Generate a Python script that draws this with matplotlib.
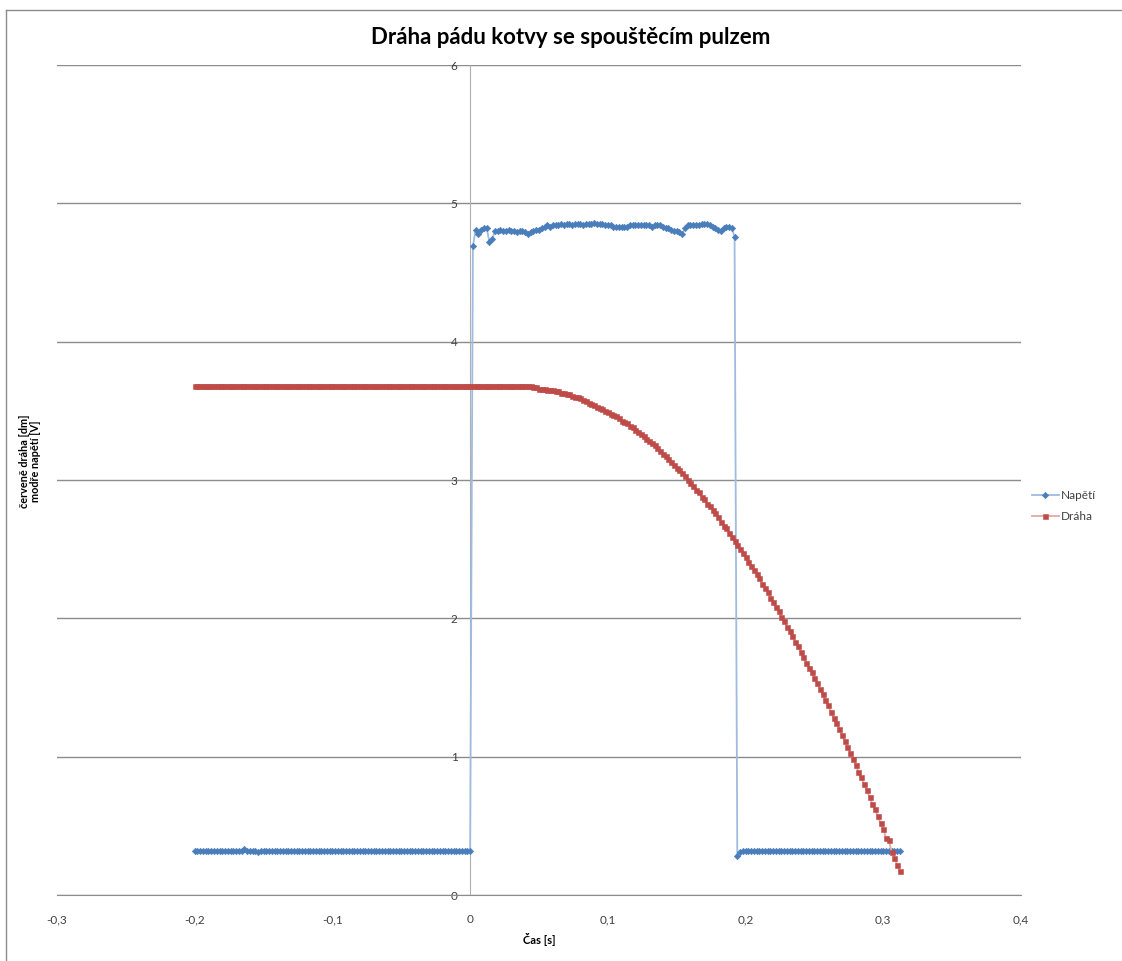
import numpy as np
import matplotlib
matplotlib.use("Agg")
import matplotlib.pyplot as plt
from matplotlib.lines import Line2D

plt.rcParams['font.family'] = ['Lato', 'DejaVu Sans']

# sample clock of the recording [s]
t = np.round(np.arange(-0.200, 0.3121, 0.002), 3)

# Napětí [V]
napeti_pre = [
    0.32, 0.32, 0.32, 0.32, 0.32, 0.32, 0.32, 0.32, 0.32, 0.32,
    0.32, 0.32, 0.32, 0.32, 0.32, 0.32, 0.32, 0.32, 0.33, 0.32,
    0.32, 0.32, 0.32, 0.31, 0.32, 0.32, 0.32, 0.32, 0.32, 0.32,
    0.32, 0.32, 0.32, 0.32, 0.32, 0.32, 0.32, 0.32, 0.32, 0.32,
    0.32, 0.32, 0.32, 0.32, 0.32, 0.32, 0.32, 0.32, 0.32, 0.32,
    0.32, 0.32, 0.32, 0.32, 0.32, 0.32, 0.32, 0.32, 0.32, 0.32,
    0.32, 0.32, 0.32, 0.32, 0.32, 0.32, 0.32, 0.32, 0.32, 0.32,
    0.32, 0.32, 0.32, 0.32, 0.32, 0.32, 0.32, 0.32, 0.32, 0.32,
    0.32, 0.32, 0.32, 0.32, 0.32, 0.32, 0.32, 0.32, 0.32, 0.32,
    0.32, 0.32, 0.32, 0.32, 0.32, 0.32, 0.32, 0.32, 0.32, 0.32,
    0.32,
]
napeti_pulse = [
    4.69, 4.81, 4.78, 4.81, 4.82, 4.82, 4.72, 4.74, 4.80, 4.80,
    4.81, 4.80, 4.80, 4.81, 4.80, 4.80, 4.79, 4.80, 4.80, 4.79,
    4.78, 4.79, 4.80, 4.81, 4.81, 4.82, 4.83, 4.84, 4.83, 4.84,
    4.84, 4.84, 4.85, 4.84, 4.85, 4.85, 4.84, 4.85, 4.85, 4.85,
    4.84, 4.85, 4.85, 4.85, 4.86, 4.85, 4.85, 4.85, 4.84, 4.84,
    4.84, 4.83, 4.83, 4.83, 4.83, 4.83, 4.83, 4.84, 4.84, 4.84,
    4.84, 4.84, 4.84, 4.84, 4.84, 4.83, 4.84, 4.84, 4.84, 4.83,
    4.82, 4.82, 4.81, 4.80, 4.80, 4.79, 4.78, 4.82, 4.84, 4.84,
    4.84, 4.84, 4.84, 4.85, 4.85, 4.85, 4.84, 4.83, 4.82, 4.81,
    4.80, 4.82, 4.83, 4.83, 4.82, 4.76,
]
napeti_post = [
    0.28, 0.31, 0.32, 0.32, 0.32, 0.32, 0.32, 0.32, 0.32, 0.32,
    0.32, 0.32, 0.32, 0.32, 0.32, 0.32, 0.32, 0.32, 0.32, 0.32,
    0.32, 0.32, 0.32, 0.32, 0.32, 0.32, 0.32, 0.32, 0.32, 0.32,
    0.32, 0.32, 0.32, 0.32, 0.32, 0.32, 0.32, 0.32, 0.32, 0.32,
    0.32, 0.32, 0.32, 0.32, 0.32, 0.32, 0.32, 0.32, 0.32, 0.32,
    0.32, 0.32, 0.32, 0.32, 0.32, 0.32, 0.32, 0.32, 0.32, 0.32,
]

# Dráha [dm]
draha_rest = [
    3.68, 3.68, 3.68, 3.68, 3.68, 3.68, 3.68, 3.68, 3.68, 3.68,
    3.68, 3.68, 3.68, 3.68, 3.68, 3.68, 3.68, 3.68, 3.68, 3.68,
    3.68, 3.68, 3.68, 3.68, 3.68, 3.68, 3.68, 3.68, 3.68, 3.68,
    3.68, 3.68, 3.68, 3.68, 3.68, 3.68, 3.68, 3.68, 3.68, 3.68,
    3.68, 3.68, 3.68, 3.68, 3.68, 3.68, 3.68, 3.68, 3.68, 3.68,
    3.68, 3.68, 3.68, 3.68, 3.68, 3.68, 3.68, 3.68, 3.68, 3.68,
    3.68, 3.68, 3.68, 3.68, 3.68, 3.68, 3.68, 3.68, 3.68, 3.68,
    3.68, 3.68, 3.68, 3.68, 3.68, 3.68, 3.68, 3.68, 3.68, 3.68,
    3.68, 3.68, 3.68, 3.68, 3.68, 3.68, 3.68, 3.68, 3.68, 3.68,
    3.68, 3.68, 3.68, 3.68, 3.68, 3.68, 3.68, 3.68, 3.68, 3.68,
    3.68, 3.68, 3.68, 3.68, 3.68, 3.68, 3.68, 3.68, 3.68, 3.68,
    3.68, 3.68, 3.68, 3.68, 3.68, 3.68, 3.68, 3.68, 3.68, 3.68,
    3.68, 3.68, 3.68,
]
draha_fall = [
    3.67, 3.67, 3.66, 3.66, 3.66, 3.65, 3.65, 3.65, 3.64, 3.64,
    3.63, 3.63, 3.62, 3.62, 3.61, 3.60, 3.60, 3.59, 3.58, 3.57,
    3.56, 3.55, 3.54, 3.53, 3.52, 3.51, 3.50, 3.49, 3.48, 3.47,
    3.46, 3.45, 3.43, 3.42, 3.41, 3.39, 3.38, 3.36, 3.35, 3.33,
    3.32, 3.30, 3.28, 3.27, 3.25, 3.23, 3.21, 3.19, 3.17, 3.15,
    3.13, 3.11, 3.09, 3.07, 3.05, 3.03, 3.00, 2.98, 2.96, 2.93,
    2.91, 2.88, 2.86, 2.83, 2.81, 2.78, 2.76, 2.73, 2.70, 2.67,
    2.65, 2.62, 2.59, 2.56, 2.53, 2.50, 2.47, 2.44, 2.41, 2.38,
    2.35, 2.32, 2.29, 2.25, 2.22, 2.19, 2.15, 2.12, 2.08, 2.05,
    2.01, 1.98, 1.94, 1.91, 1.87, 1.83, 1.80, 1.76, 1.72, 1.68,
    1.64, 1.61, 1.57, 1.53, 1.49, 1.45, 1.41, 1.37, 1.32, 1.28,
    1.24, 1.20, 1.16, 1.11, 1.07, 1.03, 0.98, 0.94, 0.89, 0.85,
    0.80, 0.76, 0.71, 0.66, 0.62, 0.57, 0.52, 0.48, 0.41, 0.40,
    0.31, 0.27, 0.22, 0.17,
]

napeti = np.array(napeti_pre + napeti_pulse + napeti_post)
draha = np.array(draha_rest + draha_fall)

x_ticks = [-0.3, -0.2, -0.1, 0.0, 0.1, 0.2, 0.3, 0.4]
x_tick_labels = ['-0,3', '-0,2', '-0,1', '0', '0,1', '0,2', '0,3', '0,4']
y_ticks = [0, 1, 2, 3, 4, 5, 6]
y_tick_labels = ['0', '1', '2', '3', '4', '5', '6']

W, H = 1122, 961
fig = plt.figure(figsize=(W / 100, H / 100), dpi=100)
fig.patch.set_facecolor('white')

ax = fig.add_axes([57 / W, 1 - 895 / H, (1021 - 57) / W, (895 - 65) / H])
ax.set_xlim(-0.3, 0.4)
ax.set_ylim(0, 6)

grid_col = '#8c8c8c'
ax.spines['top'].set_visible(False)
ax.spines['right'].set_visible(False)
ax.spines['left'].set_position(('data', 0))
ax.spines['left'].set_color('#b0b0b0')
ax.spines['bottom'].set_color(grid_col)
ax.yaxis.grid(True, color=grid_col, lw=1)
ax.set_axisbelow(True)

ax.set_xticks(x_ticks)
ax.set_xticklabels(x_tick_labels)
ax.set_yticks(y_ticks)
ax.set_yticklabels(y_tick_labels)
ax.tick_params(axis='x', length=0, pad=14, labelsize=8.5, labelcolor='#404040')
ax.tick_params(axis='y', length=0, pad=9, labelsize=8.5, labelcolor='#404040')

l1, = ax.plot(t, napeti, color='#9fbbe0', lw=1.3, marker='D', ms=3.3,
              mfc='#4a7ebb', mec='#4a7ebb', mew=0.4, label='Napětí', zorder=3)
l2, = ax.plot(t, draha, color='#e3a9a8', lw=1.3, marker='s', ms=3.6,
              mfc='#be4b48', mec='#be4b48', mew=0.4, label='Dráha', zorder=4)

fig.legend(handles=[l1, l2], labels=['Napětí', 'Dráha'], loc='center left',
           bbox_to_anchor=(1021 / W, 1 - 506 / H), frameon=False, fontsize=8.5,
           handlelength=2.3, handletextpad=0.2, labelspacing=0.9,
           labelcolor='#404040')

fig.text(571 / W, 1 - 38 / H, 'Dráha pádu kotvy se spouštěcím pulzem',
         ha='center', va='center', fontsize=16, fontweight='bold', color='black')
fig.text(539 / W, 1 - 940 / H, 'Čas [s]', ha='center', va='center',
         fontsize=8, fontweight='bold', color='black')
fig.text(30 / W, 1 - 461 / H, 'červeně dráha [dm]\nmodře napětí [V]',
         rotation=90, ha='center', va='center', multialignment='center',
         fontsize=7.8, fontweight='bold', color='black', linespacing=1.05)

# chart-area border (left and top visible)
fig.add_artist(Line2D([6 / W, 6 / W], [0, 1 - 10 / H], transform=fig.transFigure,
                      color='#8c8c8c', lw=1))
fig.add_artist(Line2D([6 / W, 1], [1 - 10 / H, 1 - 10 / H], transform=fig.transFigure,
                      color='#8c8c8c', lw=1))

fig.savefig('out.png', dpi=100)
